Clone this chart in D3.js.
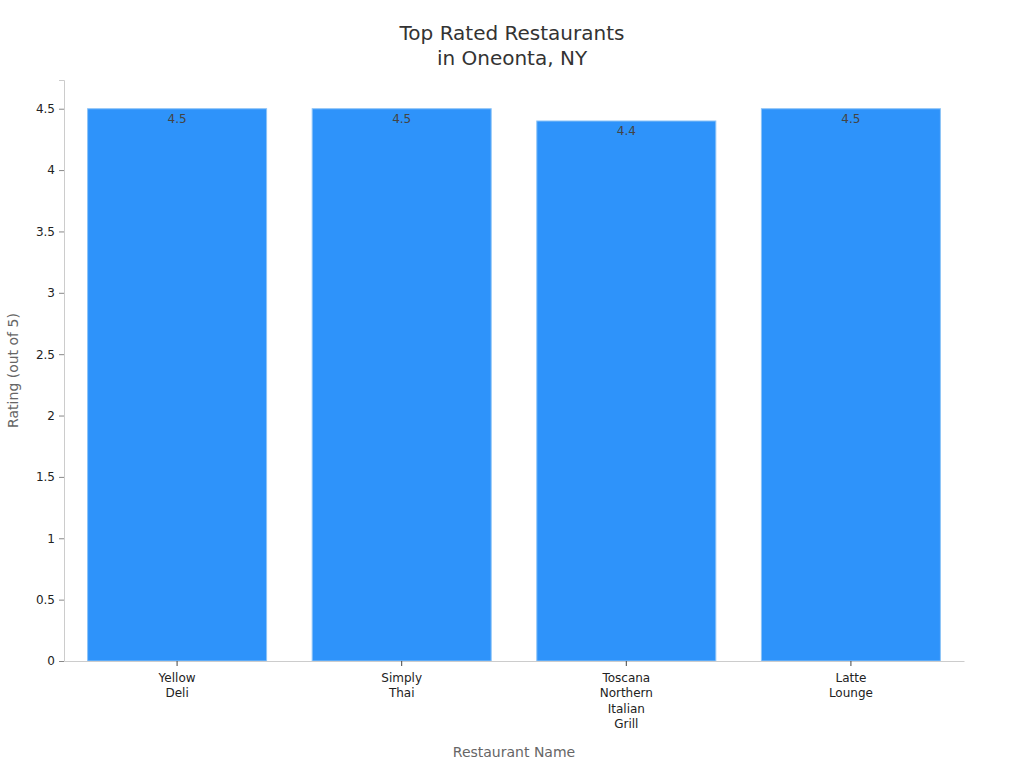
<!DOCTYPE html>
<html>
<head>
<meta charset="utf-8">
<script src="https://cdn.jsdelivr.net/npm/d3@7"></script>
<style>
  body { margin: 0; background: #fff; }
  svg { font-family: "DejaVu Sans", sans-serif; }
</style>
</head>
<body>
<svg id="chart" width="1024" height="768"></svg>
<script>
const restaurants = ['Yellow Deli', 'Simply Thai', 'Toscana Northern Italian Grill', 'Latte Lounge'];
const ratings = [4.5, 4.5, 4.4, 4.5];
const yTicks = [0, 0.5, 1, 1.5, 2, 2.5, 3, 3.5, 4, 4.5];

const svg = d3.select('#chart');
const margin = { top: 80, right: 60, bottom: 107, left: 64 };
const width = 1024 - margin.left - margin.right;
const height = 768 - margin.top - margin.bottom;

const g = svg.append('g')
  .attr('transform', `translate(${margin.left}, ${margin.top})`);

const x = d3.scaleBand()
  .domain(restaurants)
  .range([0, width])
  .paddingInner(0.203)
  .paddingOuter(0.105);

const y = d3.scaleLinear()
  .domain([0, 4.734])
  .range([height, 0]);

// title
svg.append('text')
  .attr('x', 512)
  .attr('text-anchor', 'middle')
  .style('font-size', '20px')
  .style('fill', '#333')
  .selectAll('tspan')
  .data(['Top Rated Restaurants', 'in Oneonta, NY'])
  .enter()
  .append('tspan')
  .attr('x', 512)
  .attr('y', (d, i) => 40 + i * 25)
  .text(d => d);

// bars
g.selectAll('.bar')
  .data(restaurants)
  .enter()
  .append('rect')
  .attr('class', 'bar')
  .attr('x', d => x(d))
  .attr('y', (d, i) => y(ratings[i]))
  .attr('width', x.bandwidth())
  .attr('height', (d, i) => height - y(ratings[i]))
  .attr('fill', '#2e93fa')
  .attr('stroke', '#8cc3f7')
  .attr('stroke-width', 1);

// value labels
g.selectAll('.val')
  .data(restaurants)
  .enter()
  .append('text')
  .attr('x', d => x(d) + x.bandwidth() / 2)
  .attr('y', (d, i) => y(ratings[i]) + 14)
  .attr('text-anchor', 'middle')
  .style('font-size', '12px')
  .style('fill', '#444')
  .text((d, i) => ratings[i].toFixed(1));

// y axis
const yAxis = g.append('g')
  .call(d3.axisLeft(y).tickValues(yTicks).tickSize(5).tickPadding(4)
    .tickFormat(d => d3.format('~g')(d)));
yAxis.select('.domain').attr('stroke', '#ccc');
yAxis.selectAll('.tick line').attr('stroke', '#888');
yAxis.selectAll('.tick text')
  .style('font-size', '12px')
  .style('fill', '#222')
  .style('font-family', '"DejaVu Sans", sans-serif');

// x axis
const xAxis = g.append('g')
  .attr('transform', `translate(0, ${height})`)
  .call(d3.axisBottom(x).tickSize(5).tickSizeOuter(0).tickPadding(7));
xAxis.select('.domain').attr('stroke', '#ccc');
xAxis.selectAll('.tick line').attr('stroke', '#444');
xAxis.selectAll('.tick text')
  .style('font-size', '12px')
  .style('fill', '#222')
  .style('font-family', '"DejaVu Sans", sans-serif')
  .each(function(d) {
    const t = d3.select(this);
    t.text(null);
    d.split(' ').forEach((w, i) => {
      t.append('tspan')
        .attr('x', 0)
        .attr('dy', i === 0 ? '0.71em' : '1.3em')
        .text(w);
    });
  });

// axis titles
svg.append('text')
  .attr('x', margin.left + width / 2)
  .attr('y', 757)
  .attr('text-anchor', 'middle')
  .style('font-size', '14px')
  .style('fill', '#666')
  .text('Restaurant Name');

svg.append('text')
  .attr('transform', `translate(18, ${margin.top + height / 2}) rotate(-90)`)
  .attr('text-anchor', 'middle')
  .style('font-size', '14px')
  .style('fill', '#666')
  .text('Rating (out of 5)');
</script>
</body>
</html>
